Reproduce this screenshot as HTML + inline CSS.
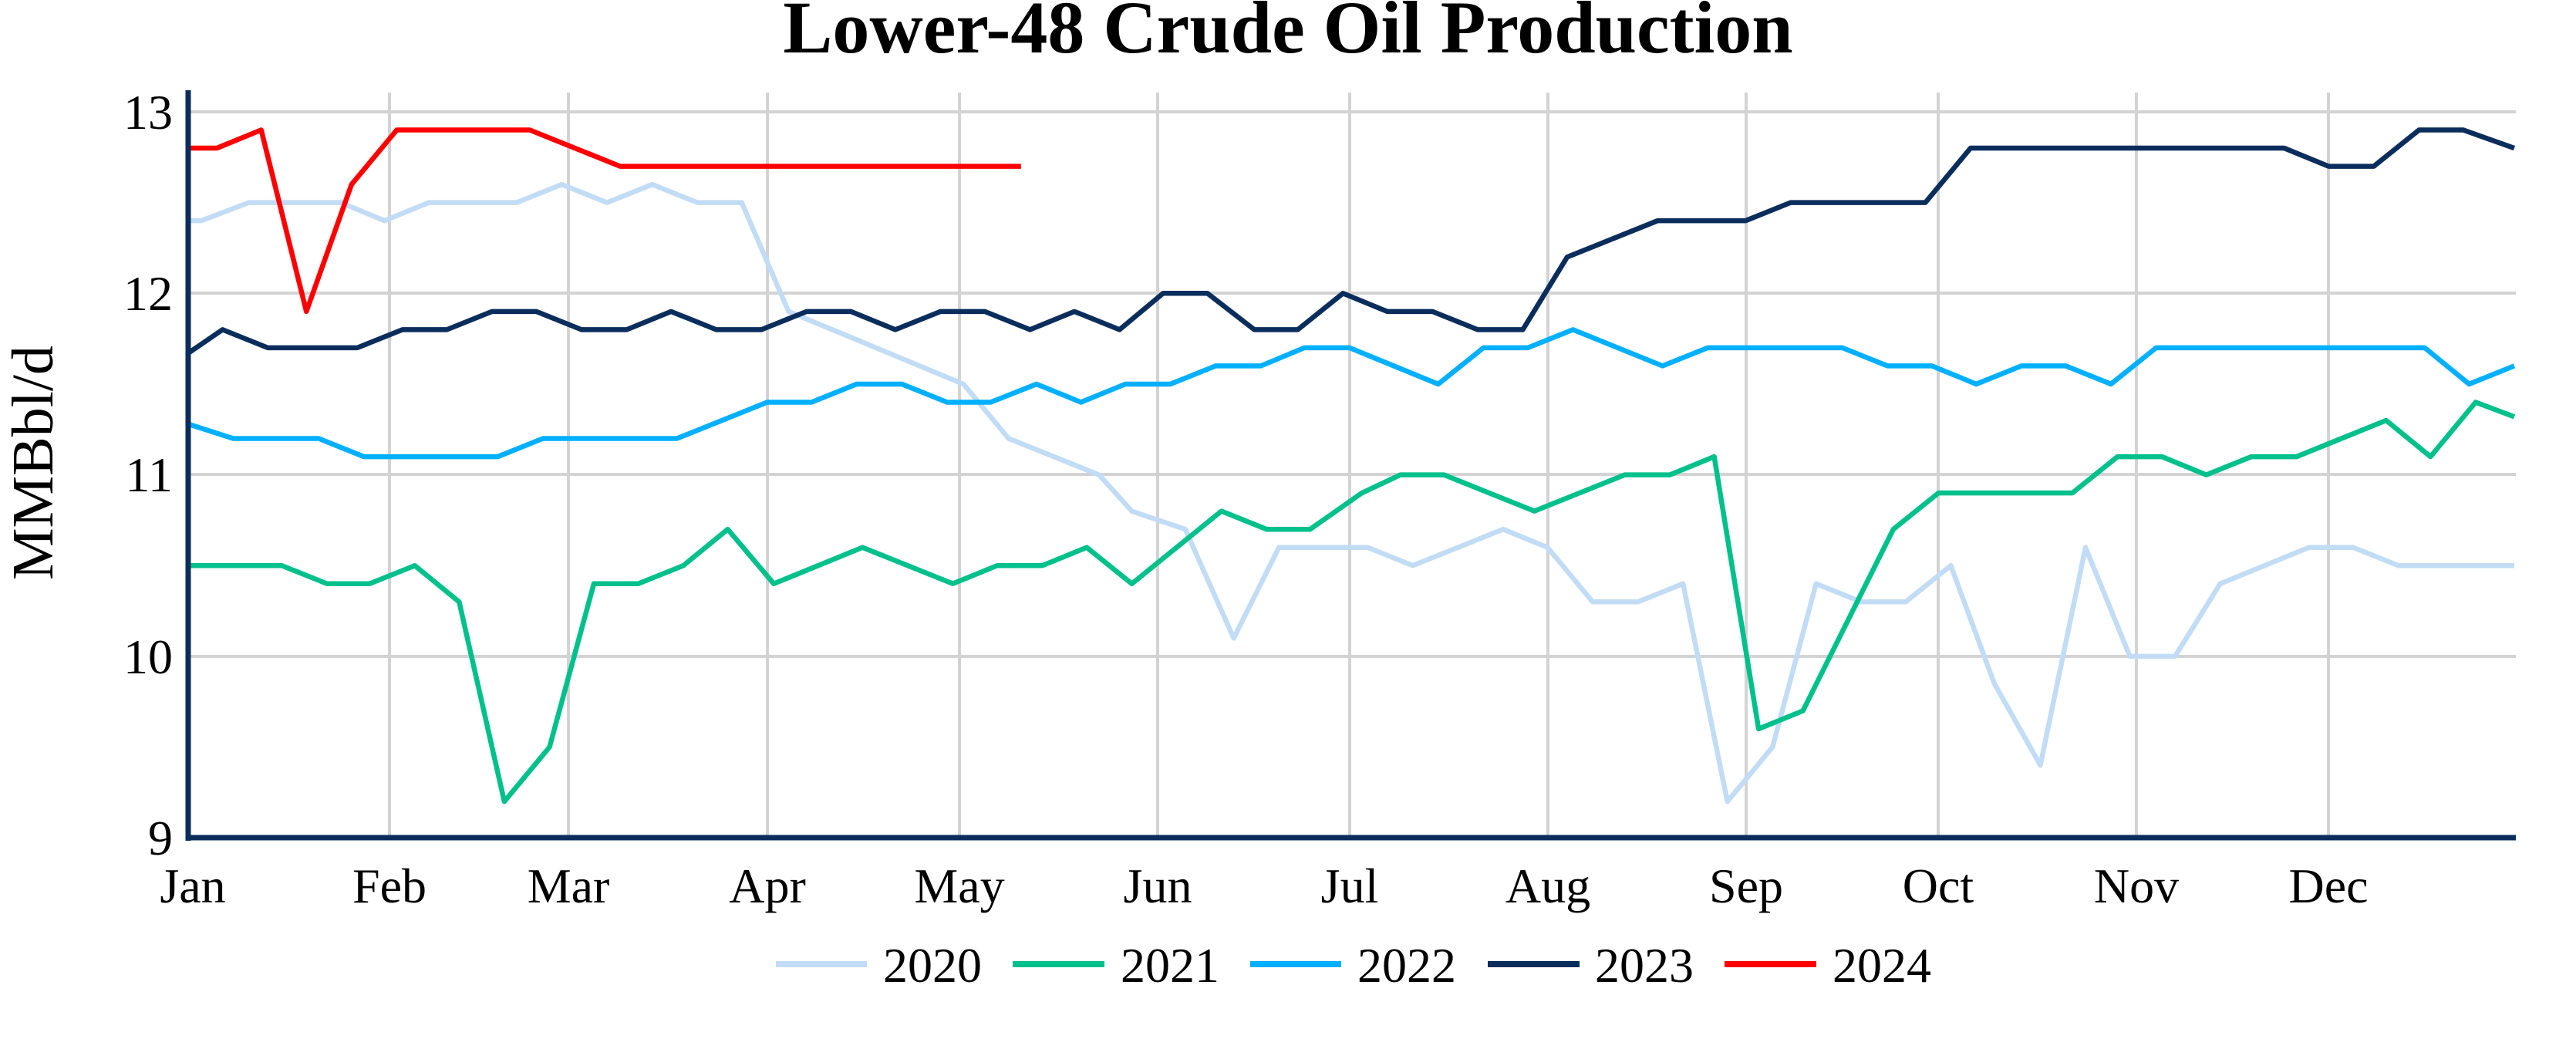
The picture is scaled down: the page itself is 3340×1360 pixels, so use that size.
<!DOCTYPE html>
<html><head><meta charset="utf-8"><style>
html,body{margin:0;padding:0;background:#fff;}
svg{display:block;font-family:"Liberation Serif",serif;}
</style></head><body>
<svg width="3340" height="1360" viewBox="0 0 3340 1360" xmlns="http://www.w3.org/2000/svg">
<text x="1670" y="68" text-anchor="middle" font-size="96" font-weight="bold">Lower-48 Crude Oil Production</text>
<g stroke="#d3d3d3" stroke-width="4">
<line x1="244" y1="145" x2="3262" y2="145"/>
<line x1="244" y1="380" x2="3262" y2="380"/>
<line x1="244" y1="615" x2="3262" y2="615"/>
<line x1="244" y1="851" x2="3262" y2="851"/>
<line x1="505" y1="120" x2="505" y2="1086"/>
<line x1="737" y1="120" x2="737" y2="1086"/>
<line x1="995" y1="120" x2="995" y2="1086"/>
<line x1="1244" y1="120" x2="1244" y2="1086"/>
<line x1="1501" y1="120" x2="1501" y2="1086"/>
<line x1="1750" y1="120" x2="1750" y2="1086"/>
<line x1="2007" y1="120" x2="2007" y2="1086"/>
<line x1="2264" y1="120" x2="2264" y2="1086"/>
<line x1="2513" y1="120" x2="2513" y2="1086"/>
<line x1="2770" y1="120" x2="2770" y2="1086"/>
<line x1="3019" y1="120" x2="3019" y2="1086"/>
</g>
<g transform="matrix(1.065,0,0,-235.3,0,3203.9)" fill="none" stroke-width="6.5" stroke-linejoin="round">
<polyline vector-effect="non-scaling-stroke" stroke="#c2dcf5" points="229,12.4 245,12.4 303,12.5 415,12.5 468,12.4 522,12.5 629,12.5 684,12.6 739,12.5 794,12.6 849,12.5 903,12.5 960,11.9 1173,11.5 1228,11.2 1338,11.0 1378,10.8 1443,10.7 1502,10.1 1557,10.6 1568,10.6 1665,10.6 1720,10.5 1830,10.7 1884,10.6 1939,10.3 1994,10.3 2049,10.4 2103,9.2 2158,9.5 2211,10.4 2266,10.3 2320,10.3 2375,10.5 2428,9.85 2484,9.4 2539,10.6 2593,10.0 2648,10.0 2703,10.4 2811,10.6 2865,10.6 2920,10.5 3061,10.5"/>
<polyline vector-effect="non-scaling-stroke" stroke="#00c08b" points="229,10.5 343,10.5 398,10.4 450,10.4 505,10.5 559,10.3 614,9.2 669,9.5 723,10.4 777,10.4 832,10.5 886,10.7 942,10.4 1050,10.6 1160,10.4 1214,10.5 1269,10.5 1323,10.6 1378,10.4 1487,10.8 1542,10.7 1595,10.7 1658,10.9 1705,11.0 1758,11.0 1868,10.8 1978,11.0 2033,11.0 2087,11.1 2141,9.6 2195,9.7 2305,10.7 2360,10.9 2523,10.9 2578,11.1 2632,11.1 2686,11.0 2741,11.1 2796,11.1 2905,11.3 2959,11.1 3014,11.4 3061,11.32"/>
<polyline vector-effect="non-scaling-stroke" stroke="#00b0ff" points="229,11.28 284,11.2 388,11.2 443,11.1 606,11.1 661,11.2 824,11.2 934,11.4 988,11.4 1043,11.5 1098,11.5 1153,11.4 1206,11.4 1262,11.5 1316,11.4 1370,11.5 1425,11.5 1480,11.6 1535,11.6 1588,11.7 1643,11.7 1751,11.5 1806,11.7 1860,11.7 1915,11.8 2024,11.6 2079,11.7 2243,11.7 2298,11.6 2352,11.6 2406,11.5 2461,11.6 2515,11.6 2570,11.5 2625,11.7 2952,11.7 3006,11.5 3061,11.6"/>
<polyline vector-effect="non-scaling-stroke" stroke="#0a2d5c" points="229,11.67 271,11.8 326,11.7 435,11.7 490,11.8 544,11.8 599,11.9 653,11.9 708,11.8 763,11.8 817,11.9 872,11.8 927,11.8 982,11.9 1036,11.9 1090,11.8 1145,11.9 1199,11.9 1254,11.8 1308,11.9 1363,11.8 1416,12.0 1470,12.0 1527,11.8 1580,11.8 1635,12.0 1689,11.9 1744,11.9 1799,11.8 1854,11.8 1908,12.2 2018,12.4 2125,12.4 2180,12.5 2344,12.5 2399,12.8 2781,12.8 2835,12.7 2890,12.7 2945,12.9 2999,12.9 3061,12.8"/>
<polyline vector-effect="non-scaling-stroke" stroke="#ff0000" points="229,12.8 264,12.8 318,12.9 373,11.9 428,12.6 483,12.9 645,12.9 755,12.7 1243,12.7"/>
</g>
<g stroke="#0a2d5c" stroke-width="7">
<line x1="244" y1="117" x2="244" y2="1090"/>
<line x1="241" y1="1086" x2="3262" y2="1086"/>
</g>
<g font-size="64" text-anchor="end">
<text x="224" y="167">13</text>
<text x="224" y="402">12</text>
<text x="224" y="637">11</text>
<text x="224" y="873">10</text>
<text x="224" y="1108">9</text>
</g>
<g font-size="64" text-anchor="middle">
<text x="250" y="1170">Jan</text>
<text x="505" y="1170">Feb</text>
<text x="737" y="1170">Mar</text>
<text x="995" y="1170">Apr</text>
<text x="1244" y="1170">May</text>
<text x="1501" y="1170">Jun</text>
<text x="1750" y="1170">Jul</text>
<text x="2007" y="1170">Aug</text>
<text x="2264" y="1170">Sep</text>
<text x="2513" y="1170">Oct</text>
<text x="2770" y="1170">Nov</text>
<text x="3019" y="1170">Dec</text>
</g>
<text transform="translate(68,600) rotate(-90)" font-size="76" text-anchor="middle">MMBbl/d</text>
<g stroke-width="8">
<line x1="1006" y1="1250" x2="1124" y2="1250" stroke="#c2dcf5"/>
<line x1="1313" y1="1250" x2="1432" y2="1250" stroke="#00c08b"/>
<line x1="1621" y1="1250" x2="1739" y2="1250" stroke="#00b0ff"/>
<line x1="1929" y1="1250" x2="2048" y2="1250" stroke="#0a2d5c"/>
<line x1="2236" y1="1250" x2="2355" y2="1250" stroke="#ff0000"/>
</g>
<g font-size="64">
<text x="1145" y="1273">2020</text>
<text x="1453" y="1273">2021</text>
<text x="1760" y="1273">2022</text>
<text x="2068" y="1273">2023</text>
<text x="2376" y="1273">2024</text>
</g>
</svg>
</body></html>
